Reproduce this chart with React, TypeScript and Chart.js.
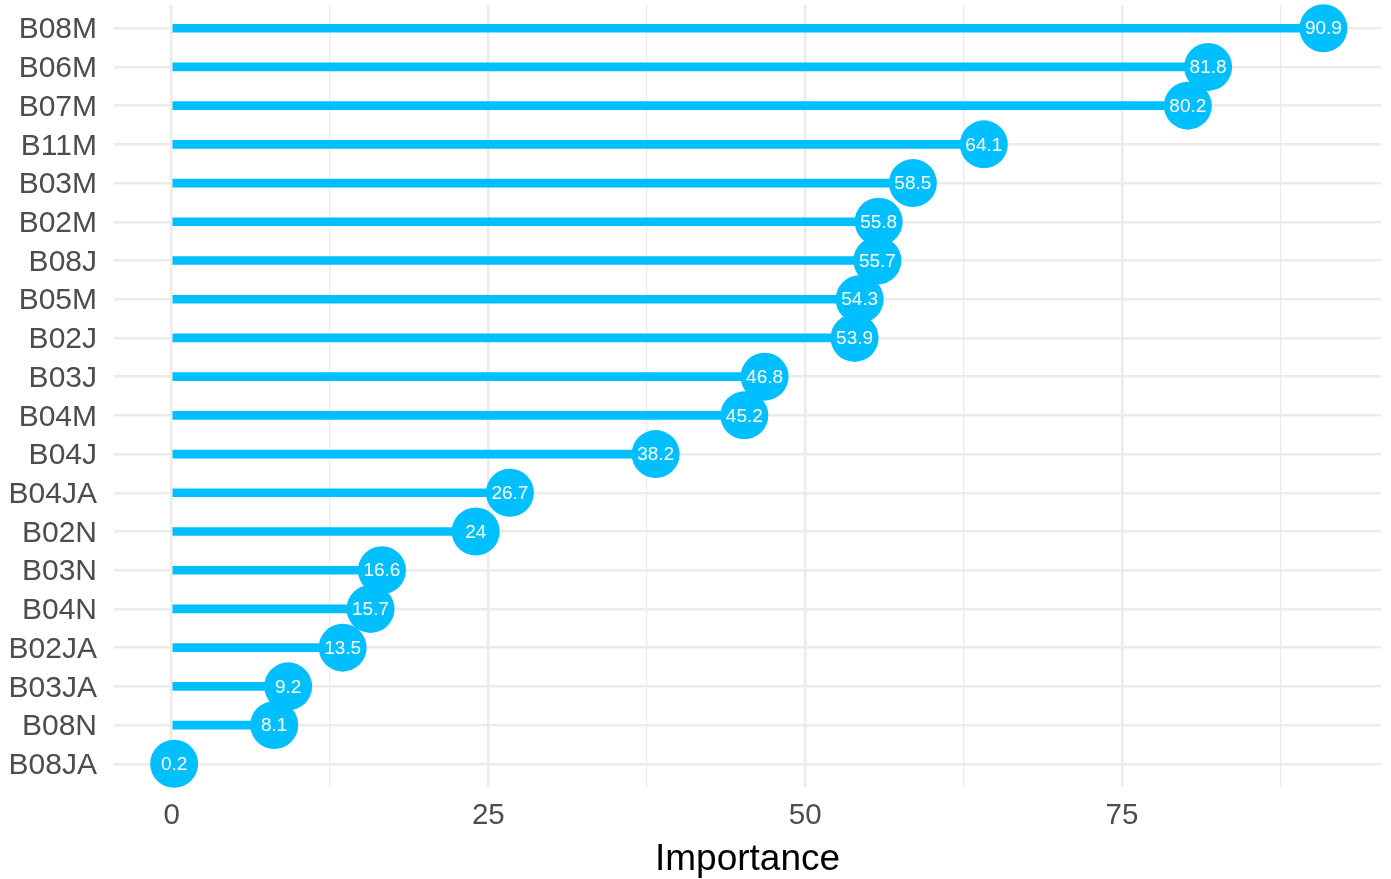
import React, { useEffect, useRef } from "react";
import { Chart, registerables } from "chart.js";

Chart.register(...registerables);

const categories = [
  "B08M", "B06M", "B07M", "B11M", "B03M", "B02M", "B08J", "B05M", "B02J", "B03J",
  "B04M", "B04J", "B04JA", "B02N", "B03N", "B04N", "B02JA", "B03JA", "B08N", "B08JA",
];
const importance = [
  90.9, 81.8, 80.2, 64.1, 58.5, 55.8, 55.7, 54.3, 53.9, 46.8,
  45.2, 38.2, 26.7, 24, 16.6, 15.7, 13.5, 9.2, 8.1, 0.2,
];
const xTickValues = [0, 12.5, 25, 37.5, 50, 62.5, 75, 87.5];
const xTickLabels = ["0", "", "25", "", "50", "", "75", ""];
const axisTitle = "Importance";

const COLOR = "#00BFFF";
const FONT = "'Liberation Sans', Arial, sans-serif";

const labelPlugin = {
  id: "pointLabels",
  afterDatasetsDraw(chart: any) {
    const meta = chart.getDatasetMeta(0);
    const ctx = chart.ctx;
    ctx.save();
    ctx.fillStyle = "#FFFFFF";
    ctx.font = `19px ${FONT}`;
    ctx.textAlign = "center";
    ctx.textBaseline = "middle";
    meta.data.forEach((pt: any, i: number) => {
      ctx.fillText(String(importance[i]), pt.x, pt.y + 1);
    });
    ctx.restore();
  },
};

const zeroPad = (s: any) => {
  s.paddingTop = 0;
  s.paddingBottom = 0;
  s.paddingLeft = 0;
  s.paddingRight = 0;
};

export default function App() {
  const ref = useRef<HTMLCanvasElement | null>(null);
  useEffect(() => {
    document.body.style.margin = "0";
    const pts = importance.map((v, i) => ({ x: v, y: i }));
    const chart = new Chart(ref.current as HTMLCanvasElement, {
      type: "bar",
      data: {
        datasets: [
          {
            type: "scatter",
            data: pts,
            backgroundColor: COLOR,
            borderWidth: 0,
            pointRadius: 24,
            pointHoverRadius: 24,
            clip: false,
            order: 1,
          } as any,
          {
            type: "bar",
            indexAxis: "y",
            data: pts,
            backgroundColor: COLOR,
            borderWidth: 0,
            barThickness: 8,
            order: 2,
          } as any,
        ],
      },
      options: {
        animation: false,
        responsive: false,
        indexAxis: "y",
        layout: { autoPadding: false, padding: { top: 5, right: 10, left: 0, bottom: 0 } },
        plugins: { legend: { display: false }, tooltip: { enabled: false } },
        scales: {
          x: {
            type: "linear",
            offset: false,
            min: -4.545,
            max: 95.445,
            afterBuildTicks: (s: any) => {
              s.ticks = xTickValues.map((v) => ({ value: v }));
            },
            afterFit: (s: any) => {
              s.height = 92;
              zeroPad(s);
            },
            ticks: {
              autoSkip: false,
              maxRotation: 0,
              padding: 11,
              color: "#4D4D4D",
              font: { family: FONT, size: 29.5 },
              callback: (_v: any, i: number) => xTickLabels[i],
            },
            grid: {
              offset: false,
              drawTicks: false,
              tickLength: 0,
              color: "#EBEBEB",
              lineWidth: (c: any) => (xTickLabels[c.index] ? 2.5 : 1.3),
            },
            border: { display: false },
            title: {
              display: true,
              text: axisTitle,
              color: "#000000",
              font: { family: FONT, size: 37, lineHeight: 1 },
              padding: { top: 0, bottom: 1 },
            },
          },
          y: {
            type: "linear",
            offset: false,
            reverse: true,
            min: -0.6,
            max: 19.6,
            afterBuildTicks: (s: any) => {
              s.ticks = categories.map((_c, i) => ({ value: i }));
            },
            afterFit: (s: any) => {
              s.width = 114;
              zeroPad(s);
            },
            ticks: {
              autoSkip: false,
              padding: 17,
              labelOffset: 2,
              color: "#4D4D4D",
              font: { family: FONT, size: 30 },
              callback: (_v: any, i: number) => categories[i],
            },
            grid: {
              offset: false,
              drawTicks: false,
              tickLength: 0,
              color: "#EBEBEB",
              lineWidth: 2.5,
            },
            border: { display: false },
          },
        },
      } as any,
      plugins: [labelPlugin],
    });
    return () => chart.destroy();
  }, []);
  return (
    <div style={{ width: 1391, height: 879, background: "#fff" }}>
      <canvas ref={ref} width={1391} height={879} style={{ display: "block" }} />
    </div>
  );
}
